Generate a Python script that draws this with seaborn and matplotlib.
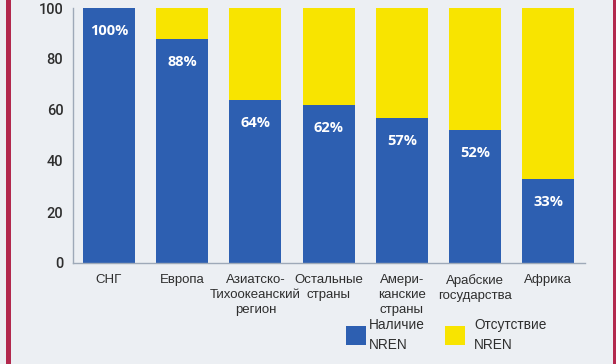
import matplotlib
matplotlib.use("Agg")
import matplotlib.pyplot as plt
from matplotlib import font_manager
from matplotlib.patches import Rectangle
import seaborn as sns
import pandas as pd

# Доля стран с национальными сетями исследований и образования (NREN)
regions = ["СНГ", "Европа", "Азиатско-\nТихоокеанский\nрегион", "Остальные\nстраны",
           "Амери-\nканские\nстраны", "Арабские\nгосударства", "Африка"]
nren_present = [100, 88, 64, 62, 57, 52, 33]
nren_absent = [0, 12, 36, 38, 43, 48, 67]
value_labels = ["100%", "88%", "64%", "62%", "57%", "52%", "33%"]
y_ticks = [0, 20, 40, 60, 80, 100]
legend_labels = ["Наличие\nNREN", "Отсутствие\nNREN"]

BLUE = "#2d5fb1"
YELLOW = "#f8e400"
BG = "#eceff3"
AXIS = "#9ea9b8"
TEXT = "#2e2e2e"
BORDER = "#b2284d"

available = {f.name for f in font_manager.fontManager.ttflist}
narrow = "Liberation Sans Narrow" if "Liberation Sans Narrow" in available else "Liberation Sans"

sns.set_theme(style="white")
plt.rcParams["font.family"] = ["Liberation Sans", "DejaVu Sans"]

df = pd.DataFrame({
    "region": regions,
    "present": nren_present,
    "total": [p + a for p, a in zip(nren_present, nren_absent)],
})

fig = plt.figure(figsize=(6.16, 3.64), dpi=100, facecolor=BG)
ax = fig.add_axes([73 / 616, 1 - 263 / 364, (585 - 73) / 616, (263 - 8) / 364])
ax.set_facecolor(BG)

sns.barplot(data=df, x="region", y="total", color=YELLOW, saturation=1,
            width=0.71, ax=ax, linewidth=0)
sns.barplot(data=df, x="region", y="present", color=BLUE, saturation=1,
            width=0.71, ax=ax, linewidth=0)

for i, (v, lab) in enumerate(zip(nren_present, value_labels)):
    ax.text(i, v - 9, lab, ha="center", va="center", color="white",
            fontsize=10.5, fontweight="bold", family=["Open Sans", "DejaVu Sans"])

ax.set_xlim(-0.49, 6.5)
ax.set_ylim(0, 100)
ax.set_yticks(y_ticks)
ax.set_yticklabels([str(t) for t in y_ticks], fontsize=10.5, color=TEXT,
                   family=["Roboto", "DejaVu Sans"], fontweight="medium")
ax.set_xticks(range(len(regions)))
ax.set_xticklabels(regions, fontsize=9.5, color=TEXT, family=[narrow, "DejaVu Sans"],
                   linespacing=1.32, va="top")
ax.set_xticks([i + 0.5 for i in range(len(regions))], minor=True)
ax.tick_params(axis="x", which="major", length=0, pad=8)
ax.tick_params(axis="x", which="minor", direction="in", length=4, width=0.8, color=AXIS)
ax.tick_params(axis="y", direction="in", length=3, width=0.8, color=AXIS, pad=7)
ax.set_xlabel("")
ax.set_ylabel("")
for s in ["top", "right"]:
    ax.spines[s].set_visible(False)
for s in ["left", "bottom"]:
    ax.spines[s].set_color(AXIS)
    ax.spines[s].set_linewidth(1.0)

# Легенда
W, H = 616, 364
for (x0, color), lab, tx in zip([(346, BLUE), (445, YELLOW)], legend_labels, [369, 474]):
    fig.add_artist(Rectangle((x0 / W, 1 - 345 / H), 20 / W, 19 / H,
                             transform=fig.transFigure, facecolor=color, edgecolor="none"))
    fig.text(tx / W, 1 - 335 / H, lab, ha="left", va="center", fontsize=9.8,
             color=TEXT, family=[narrow, "DejaVu Sans"], linespacing=1.6)

# Рамка
fig.add_artist(Rectangle((6 / W, 0), 5 / W, 1, transform=fig.transFigure,
                         facecolor=BORDER, edgecolor="none"))
fig.add_artist(Rectangle((613 / W, 0), 3 / W, 1, transform=fig.transFigure,
                         facecolor=BORDER, edgecolor="none"))

fig.savefig("out.png", dpi=100, facecolor=BG)
